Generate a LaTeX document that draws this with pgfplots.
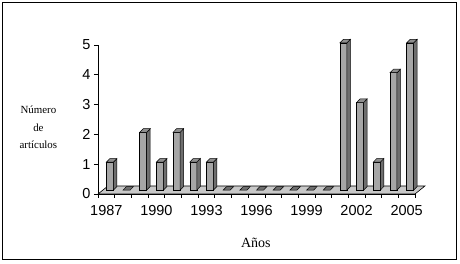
\documentclass[border=0pt]{standalone}
\usepackage{pgfplots}
\usepackage{pgfplotstable}
\pgfplotsset{compat=1.18}
\usepackage{fontspec}
\setmainfont{Liberation Serif}
\setsansfont{Liberation Sans}
\definecolor{barfront}{HTML}{A6A6A6}
\definecolor{barside}{HTML}{6E6E6E}
\definecolor{bartop}{HTML}{8E8E8E}
\definecolor{floorc}{HTML}{C8C8C8}
\pgfplotstableread{
x y
0 1
1 0
2 2
3 1
4 2
5 1
6 1
7 0
8 0
9 0
10 0
11 0
12 0
13 0
14 5
15 3
16 1
17 4
18 5
}\data
\begin{document}
\begin{tikzpicture}
\useasboundingbox (0,0) rectangle (460pt,264pt);
\draw[line width=1pt] (2.7pt,4.7pt) rectangle (456.7pt,261.3pt);
\begin{axis}[
  at={(98pt,70pt)}, anchor=south west,
  scale only axis, width=317pt, height=149pt,
  xmin=-0.5, xmax=18.5, ymin=0, ymax=5,
  clip=false,
  axis x line*=bottom, axis y line*=left,
  axis line style={-, line width=0.8pt},
  xtick={-0.5,0.5,...,18.5}, xticklabels={},
  extra x ticks={0,3,6,9,12,15,18},
  extra x tick labels={1987,1990,1993,1996,1999,2002,2005},
  extra x tick style={major tick length=0pt, tick label style={yshift=-8pt}},
  ytick={0,...,5},
  tick align=outside, major tick length=4pt,
  tick style={black, line width=0.6pt},
  tick label style={font=\fontsize{14.5}{17}\selectfont\sffamily},
  /pgf/number format/assume math mode=true,
  xlabel={Años}, xlabel style={at={(rel axis cs:0.498,-0.327)}, anchor=center, font=\fontsize{14}{16}\selectfont},
  ylabel={Número\\de\\artículos}, ylabel style={at={(rel axis cs:-0.188,0.446)}, rotate=-90, anchor=center, align=center, font=\fontsize{10.9}{17.5}\selectfont},
]
\addplot[fill=floorc, draw=black, line width=0.6pt] coordinates {(-0.5,0) (18.5,0) (19.1,0.27) (0.1,0.27)} -- cycle;
\pgfplotsforeachungrouped \baridx in {0,...,18}{%
  \pgfplotstablegetelem{\baridx}{y}\of\data
  \pgfmathsetmacro\bval{\pgfplotsretval}%
  \pgfmathsetmacro\xa{\baridx}%
  \pgfmathsetmacro\xb{\baridx+0.42}%
  \pgfmathsetmacro\xc{\baridx+0.63}%
  \pgfmathsetmacro\xd{\baridx+0.21}%
  \pgfmathsetmacro\yt{\bval+0.07}%
  \pgfmathsetmacro\ytb{\bval+0.19}%
  \ifdim\bval pt>0pt
    \edef\temp{\noexpand\addplot[fill=barfront,draw=black,line width=0.5pt] coordinates {(\xa,0.13) (\xb,0.13) (\xb,\yt) (\xa,\yt)} -- cycle;
      \noexpand\addplot[fill=barside,draw=black,line width=0.5pt] coordinates {(\xb,0.13) (\xc,0.25) (\xc,\ytb) (\xb,\yt)} -- cycle;
      \noexpand\addplot[fill=bartop,draw=black,line width=0.5pt] coordinates {(\xa,\yt) (\xb,\yt) (\xc,\ytb) (\xd,\ytb)} -- cycle;}%
    \temp
  \else
    \edef\temp{\noexpand\addplot[fill=barside,draw=black,line width=0.5pt] coordinates {(\xa,0.13) (\xb,0.13) (\xc,0.25) (\xd,0.25)} -- cycle;}%
    \temp
  \fi
}
\end{axis}
\end{tikzpicture}
\end{document}
